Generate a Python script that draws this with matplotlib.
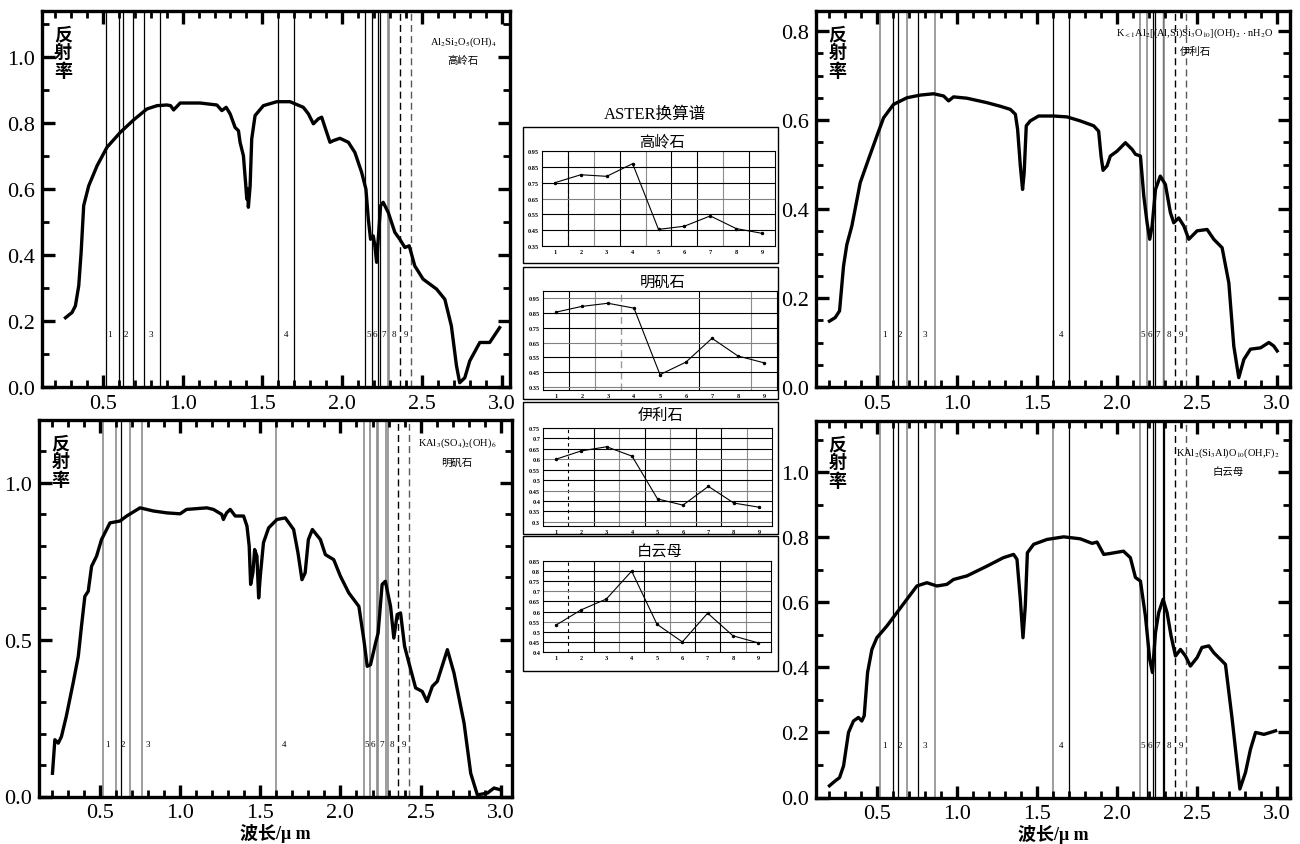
import matplotlib
matplotlib.use('Agg')
import matplotlib.pyplot as plt
from matplotlib.ticker import MultipleLocator
from matplotlib.patches import Rectangle

plt.rcParams['font.family'] = ['Liberation Serif', 'Noto Sans CJK SC']
plt.rcParams['mathtext.fontset'] = 'stix'

# ---- spectra (wavelength um, reflectance) ----
kao_wl = [0.267, 0.308, 0.329, 0.35, 0.365, 0.381, 0.4125, 0.465, 0.527, 0.61, 0.694, 0.777, 0.84, 0.902,
          0.925, 0.944, 0.985, 1.11, 1.215, 1.246, 1.273, 1.298, 1.329, 1.35, 1.36, 1.381, 1.396, 1.402,
          1.407, 1.412, 1.423, 1.433, 1.454, 1.506, 1.59, 1.673, 1.756, 1.788, 1.819, 1.85, 1.871, 1.892,
          1.923, 1.944, 1.985, 2.038, 2.079, 2.121, 2.148, 2.163, 2.177, 2.194, 2.204, 2.215, 2.225, 2.24,
          2.256, 2.288, 2.329, 2.36, 2.392, 2.419, 2.454, 2.506, 2.59, 2.642, 2.683, 2.715, 2.735, 2.767,
          2.798, 2.861, 2.923, 2.985]
kao_r = [0.21, 0.226, 0.246, 0.307, 0.408, 0.55, 0.61, 0.671, 0.727, 0.772, 0.81, 0.843, 0.853, 0.855,
         0.853, 0.84, 0.861, 0.861, 0.855, 0.838, 0.848, 0.828, 0.787, 0.777, 0.742, 0.701, 0.61, 0.57,
         0.6, 0.545, 0.61, 0.752, 0.823, 0.853, 0.865, 0.865, 0.848, 0.828, 0.798, 0.813, 0.818, 0.787,
         0.742, 0.747, 0.754, 0.742, 0.711, 0.651, 0.6, 0.509, 0.448, 0.458, 0.428, 0.378, 0.448, 0.55,
         0.56, 0.529, 0.469, 0.448, 0.423, 0.428, 0.367, 0.327, 0.297, 0.266, 0.185, 0.064, 0.013, 0.028,
         0.079, 0.135, 0.135, 0.18]

ill_wl = [0.204, 0.24, 0.267, 0.292, 0.3125, 0.344, 0.396, 0.448, 0.5, 0.542, 0.604, 0.6875, 0.771, 0.854,
          0.917, 0.948, 0.979, 1.0625, 1.1875, 1.27, 1.333, 1.365, 1.379, 1.396, 1.41, 1.42, 1.433, 1.458,
          1.51, 1.604, 1.6875, 1.77, 1.854, 1.885, 1.9, 1.9125, 1.9375, 1.958, 2.0, 2.052, 2.094, 2.115,
          2.146, 2.167, 2.1875, 2.204, 2.219, 2.24, 2.27, 2.302, 2.333, 2.354, 2.385, 2.417, 2.448, 2.5,
          2.5625, 2.604, 2.656, 2.698, 2.729, 2.76, 2.792, 2.833, 2.896, 2.948, 2.979, 3.0]
ill_r = [0.148, 0.156, 0.171, 0.272, 0.32, 0.362, 0.459, 0.512, 0.564, 0.605, 0.635, 0.65, 0.656, 0.659,
         0.654, 0.643, 0.652, 0.649, 0.639, 0.631, 0.624, 0.613, 0.579, 0.497, 0.444, 0.482, 0.587, 0.598,
         0.609, 0.609, 0.607, 0.598, 0.587, 0.575, 0.519, 0.487, 0.497, 0.519, 0.53, 0.549, 0.534, 0.523,
         0.519, 0.429, 0.369, 0.332, 0.362, 0.444, 0.474, 0.455, 0.392, 0.369, 0.38, 0.362, 0.332, 0.351,
         0.354, 0.332, 0.313, 0.234, 0.092, 0.021, 0.062, 0.085, 0.088, 0.1, 0.092, 0.081]

alu_wl = [0.204, 0.219, 0.24, 0.26, 0.29, 0.333, 0.365, 0.385, 0.406, 0.427, 0.448, 0.479, 0.51, 0.5625,
          0.625, 0.667, 0.75, 0.833, 0.917, 1.0, 1.04, 1.167, 1.208, 1.26, 1.27, 1.29, 1.3125, 1.344,
          1.396, 1.417, 1.431, 1.44, 1.454, 1.465, 1.479, 1.49, 1.5, 1.52, 1.552, 1.604, 1.656, 1.708,
          1.735, 1.76, 1.78, 1.8, 1.825, 1.875, 1.906, 1.958, 2.0, 2.052, 2.115, 2.146, 2.167, 2.1875,
          2.219, 2.235, 2.26, 2.28, 2.3125, 2.333, 2.354, 2.375, 2.4, 2.427, 2.469, 2.51, 2.54, 2.573,
          2.604, 2.667, 2.708, 2.771, 2.8125, 2.854, 2.917, 2.958, 3.0]
alu_r = [0.074, 0.181, 0.17, 0.191, 0.255, 0.362, 0.447, 0.543, 0.638, 0.654, 0.734, 0.766, 0.819, 0.872,
         0.878, 0.894, 0.92, 0.91, 0.904, 0.901, 0.915, 0.92, 0.915, 0.899, 0.883, 0.904, 0.915, 0.894,
         0.894, 0.862, 0.798, 0.676, 0.713, 0.787, 0.766, 0.633, 0.702, 0.809, 0.856, 0.883, 0.888, 0.851,
         0.777, 0.691, 0.713, 0.819, 0.851, 0.819, 0.771, 0.755, 0.702, 0.649, 0.606, 0.5, 0.415, 0.42,
         0.489, 0.521, 0.676, 0.686, 0.606, 0.505, 0.58, 0.585, 0.479, 0.426, 0.346, 0.335, 0.303, 0.351,
         0.367, 0.468, 0.394, 0.234, 0.074, 0.005, 0.011, 0.027, 0.021]

mus_wl = [0.204, 0.24, 0.267, 0.292, 0.323, 0.354, 0.385, 0.406, 0.421, 0.442, 0.469, 0.5, 0.5625, 0.625,
          0.6875, 0.75, 0.8125, 0.875, 0.9375, 0.979, 1.0625, 1.1875, 1.29, 1.354, 1.375, 1.396, 1.4125,
          1.427, 1.44, 1.479, 1.5625, 1.667, 1.77, 1.844, 1.875, 1.917, 1.958, 2.04, 2.083, 2.115, 2.146,
          2.177, 2.204, 2.221, 2.24, 2.26, 2.2875, 2.3125, 2.3375, 2.365, 2.396, 2.427, 2.458, 2.5, 2.53,
          2.573, 2.604, 2.677, 2.719, 2.767, 2.802, 2.833, 2.865, 2.917, 2.958, 2.99]
mus_r = [0.036, 0.051, 0.061, 0.097, 0.2, 0.235, 0.246, 0.235, 0.251, 0.384, 0.455, 0.491, 0.527, 0.568,
         0.609, 0.65, 0.66, 0.65, 0.655, 0.67, 0.681, 0.711, 0.737, 0.747, 0.732, 0.609, 0.491, 0.589,
         0.752, 0.778, 0.793, 0.801, 0.795, 0.781, 0.785, 0.747, 0.75, 0.757, 0.737, 0.676, 0.665, 0.558,
         0.425, 0.384, 0.507, 0.568, 0.609, 0.568, 0.496, 0.435, 0.455, 0.435, 0.404, 0.43, 0.461, 0.466,
         0.445, 0.409, 0.24, 0.026, 0.077, 0.148, 0.2, 0.194, 0.2, 0.205]

# ASTER band edges and labels
edges = [0.52, 0.60, 0.63, 0.69, 0.76, 0.86, 1.60, 1.70, 2.145, 2.185, 2.225, 2.235, 2.285, 2.295]
edges_dash = [2.36, 2.43]
band_lab = ['1', '2', '3', '4', '5', '6', '7', '8', '9']
band_mid = [0.545, 0.645, 0.80, 1.65, 2.163, 2.204, 2.256, 2.323, 2.398]

# ASTER resampled spectra (bands 1-9)
aster_x = [1, 2, 3, 4, 5, 6, 7, 8, 9]
aster_kao = [0.75, 0.80, 0.79, 0.87, 0.455, 0.475, 0.54, 0.46, 0.43]
aster_alu = [0.857, 0.896, 0.917, 0.884, 0.434, 0.519, 0.68, 0.56, 0.514]
aster_ill = [0.60, 0.64, 0.66, 0.615, 0.41, 0.38, 0.47, 0.39, 0.37]
aster_mus = [0.532, 0.608, 0.662, 0.80, 0.537, 0.45, 0.592, 0.48, 0.445]

W, H = 1300, 845
fig = plt.figure(figsize=(13, 8.45), dpi=100)


def frac(x0, y0, x1, y1):
    # pixel box (top-left origin) -> figure fraction rect
    return [x0 / W, 1 - y1 / H, (x1 - x0) / W, (y1 - y0) / H]


def spec(rect, wl, r, xmax, ymax, ymaj, ymin, formula, name, fpos, cols, skip=(), xlab=False):
    ax = fig.add_axes(rect)
    for e, c in zip(edges, cols):
        if e in skip:
            continue
        ax.axvline(e, color=c, lw=0.9 if c == 'k' else 1.2, zorder=1)
    ax.axvline(edges_dash[0], color='k', lw=1.0, ls=(0, (5, 3)), zorder=1)
    ax.axvline(edges_dash[1], color='0.35', lw=1.0, ls=(0, (5, 3)), zorder=1)
    for lab, xm in zip(band_lab, band_mid):
        ax.text(xm, 0.14, lab, transform=ax.get_xaxis_transform(), fontsize=6.5,
                ha='center', va='center')
    ax.plot(wl, r, color='k', lw=2.4, zorder=3)
    ax.set_xlim(0.12, xmax)
    ax.set_ylim(0, ymax)
    ax.xaxis.set_major_locator(MultipleLocator(0.5))
    ax.xaxis.set_minor_locator(MultipleLocator(0.1))
    ax.yaxis.set_major_locator(MultipleLocator(ymaj))
    ax.yaxis.set_minor_locator(MultipleLocator(ymin))
    ax.xaxis.set_major_formatter(plt.FormatStrFormatter('%.1f'))
    ax.yaxis.set_major_formatter(plt.FormatStrFormatter('%.1f'))
    ax.tick_params(which='both', direction='in', top=True, right=True, labelsize=16)
    ax.tick_params(which='major', length=9, width=2.4, pad=5)
    ax.tick_params(which='minor', length=5, width=2.0)
    for s in ax.spines.values():
        s.set_linewidth(2.4)
    ax.text(0.045, 0.965, '反\n射\n率', transform=ax.transAxes, fontsize=13, fontweight='bold',
            family=['Noto Sans CJK SC'], ha='center', va='top', linespacing=0.95)
    ax.text(fpos[0], fpos[1], formula, transform=ax.transAxes, fontsize=7.5, ha='center', va='center')
    ax.text(fpos[0], fpos[1] - 0.05, name, transform=ax.transAxes, fontsize=7.5, ha='center',
            va='center', family=['Noto Sans CJK SC'])
    if xlab:
        ax.text(0.5, -0.095, '波长/μ m', transform=ax.transAxes, fontsize=13, fontweight='bold',
                ha='center', va='center')
    return ax


g = '0.55'
k = 'k'
spec(frac(42, 12, 510, 388), kao_wl, kao_r, 3.05, 1.14, 0.2, 0.1,
     r'Al$_2$Si$_2$O$_5$(OH)$_4$', '高岭石', (0.90, 0.92),
     [k, k, k, k, k, k, k, k, k, k, k, k, g, g])
spec(frac(816, 12, 1290, 388), ill_wl, ill_r, 3.08, 0.845, 0.2, 0.05,
     r'K$_{<1}$Al$_2$[(Al,Si)Si$_3$O$_{10}$](OH)$_2$ $\cdot$ nH$_2$O', '伊利石', (0.80, 0.944),
     [g, k, k, g, k, g, k, k, g, g, k, k, k, g])
spec(frac(39, 421, 512, 797.5), alu_wl, alu_r, 3.07, 1.2, 0.5, 0.1,
     r'KAl$_3$(SO$_4$)$_2$(OH)$_6$', '明矾石', (0.884, 0.94),
     [g, g, k, g, g, g, g, g, g, g, g, g, g, g], skip=(0.86, 1.70), xlab=True)
spec(frac(816, 422, 1290, 798.5), mus_wl, mus_r, 3.08, 1.157, 0.2, 0.1,
     r'KAl$_2$(Si$_3$Al)O$_{10}$(OH,F)$_2$', '白云母', (0.87, 0.917),
     [g, k, k, g, k, g, g, k, g, k, k, k, k, k], xlab=True)

# ---- middle block: ASTER resampled spectra ----
fig.text(655 / W, 1 - 115 / H, 'ASTER换算谱', fontsize=12, ha='center', va='center')

names = ['高岭石', '明矾石', '伊利石', '白云母']
vals = [aster_kao, aster_alu, aster_ill, aster_mus]
yticks = [[0.35, 0.45, 0.55, 0.65, 0.75, 0.85, 0.95],
          [0.35, 0.45, 0.55, 0.65, 0.75, 0.85, 0.95],
          [0.3, 0.35, 0.4, 0.45, 0.5, 0.55, 0.6, 0.65, 0.7, 0.75],
          [0.4, 0.45, 0.5, 0.55, 0.6, 0.65, 0.7, 0.75, 0.8, 0.85]]
ylims = [(0.35, 0.95), (0.33, 1.0), (0.28, 0.75), (0.4, 0.85)]
boxes = [(523, 128, 778, 264), (523, 268, 778, 400), (523, 403, 778, 535), (523, 537, 778, 672)]
inner = [(542, 152, 775, 247), (543, 292, 777, 391), (543, 429, 772, 527), (543, 562, 771, 653)]
title_y = [142, 282, 415, 552]
vgrid = [[1.5, 2.5, 3.5, 4.5, 5.5, 6.5, 7.5, 8.5],
         [1.5, 2.5, 6.5, 8.5],
         [2.5, 3.5, 4.5, 5.5, 6.5, 7.5, 8.5],
         [2.5, 3.5, 4.5, 5.5, 6.5, 7.5, 8.5]]
vcol = ['k', '0.55', 'k', '0.55', 'k', 'k', '0.55', 'k']

for i in range(4):
    x0, y0, x1, y1 = boxes[i]
    fig.add_artist(Rectangle((x0 / W, 1 - y1 / H), (x1 - x0) / W, (y1 - y0) / H,
                             transform=fig.transFigure, fill=False, ec='k', lw=1.0))
    fig.text(((inner[i][0] + inner[i][2]) / 2 + 3) / W, 1 - title_y[i] / H, names[i],
             fontsize=11, ha='center', va='center', family=['Noto Sans CJK SC'])
    ax = fig.add_axes(frac(*inner[i]))
    for j, v in enumerate(vgrid[i]):
        ax.axvline(v, color=vcol[j % len(vcol)], lw=0.8, zorder=1)
    if i == 1:
        ax.axvline(3.5, color='0.6', lw=1.0, ls=(0, (5, 3)), zorder=1)
    else:
        ax.axvline(1.5, color='k', lw=0.8, ls=(0, (3, 3)), zorder=1)
    for j, t in enumerate(yticks[i]):
        ax.axhline(t, color='k' if j % 3 else '0.5', lw=0.8, zorder=1)
    ax.plot(aster_x, vals[i], color='k', lw=0.8, marker='o', ms=1.5, zorder=3)
    ax.set_xlim(0.5, 9.5)
    ax.set_ylim(*ylims[i])
    ax.set_xticks(aster_x)
    ax.set_yticks(yticks[i])
    ax.set_yticklabels(['%g' % t for t in yticks[i]])
    ax.tick_params(length=0, labelsize=4.5, pad=2)
    for lab in ax.get_xticklabels() + ax.get_yticklabels():
        lab.set_fontweight('bold')
    for s in ax.spines.values():
        s.set_linewidth(0.8)

fig.savefig('out.png', dpi=100)
